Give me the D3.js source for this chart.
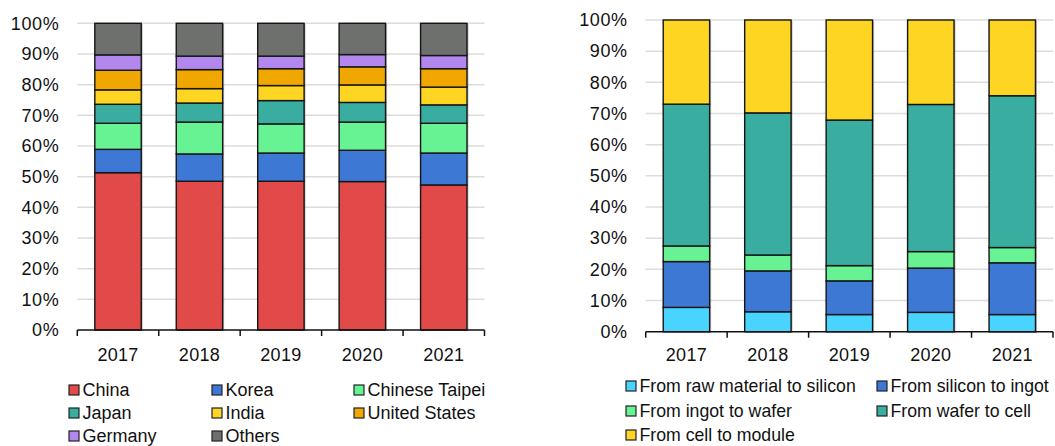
<!DOCTYPE html>
<html><head><meta charset="utf-8">
<script src="https://cdn.jsdelivr.net/npm/d3@7"></script>
<style>
body{margin:0;background:#fff;}
text{font-family:"Liberation Sans",Arial,sans-serif;fill:#111;}
</style></head>
<body><svg id="c" width="1055" height="446"></svg>
<script>
const years = ["2017","2018","2019","2020","2021"];
const yTicks = [0,10,20,30,40,50,60,70,80,90,100];

// Left chart: share by country (%)
const countries = ["China","Korea","Chinese Taipei","Japan","India","United States","Germany","Others"];
const China        = [51.3, 48.5, 48.5, 48.4, 47.3];
const Korea        = [ 7.6,  8.9,  9.2, 10.2, 10.4];
const ChineseTaipei= [ 8.5, 10.4,  9.5,  9.2,  9.7];
const Japan        = [ 6.2,  6.2,  7.6,  6.4,  6.0];
const India        = [ 4.7,  4.7,  4.9,  5.7,  5.8];
const UnitedStates = [ 6.4,  6.2,  5.5,  5.9,  6.0];
const Germany      = [ 5.0,  4.4,  4.1,  4.0,  4.3];
const Others       = [10.3, 10.7, 10.7, 10.2, 10.5];
const countryColors = ["#E24A4A","#3D79D4","#67F393","#38ADA0","#FED523","#F0A800","#B287EE","#6E706E"];

// Right chart: share by value-chain step (%)
const steps = ["From raw material to silicon","From silicon to ingot","From ingot to wafer","From wafer to cell","From cell to module"];
const rawToSilicon = [ 7.8,  6.4,  5.5,  6.2,  5.5];
const siliconToIngot=[14.7, 13.1, 10.8, 14.2, 16.6];
const ingotToWafer = [ 5.0,  5.1,  4.9,  5.3,  4.9];
const waferToCell  = [45.5, 45.6, 46.7, 47.2, 48.7];
const cellToModule = [27.0, 29.8, 32.1, 27.1, 24.3];
const stepColors = ["#48D4FE","#3D79D4","#67F393","#38ADA0","#FED523"];

const svg = d3.select("#c");

function chart(cfg){
  const rows = years.map((y,i)=>{const o={year:y}; cfg.keys.forEach((k,j)=>o[k]=cfg.series[j][i]); return o;});
  const stack = d3.stack().keys(cfg.keys)(rows);
  const x = d3.scaleBand().domain(years).range([cfg.x0,cfg.x1]).paddingInner(0.43).paddingOuter(0.215);
  const xb = d3.scaleBand().domain(years).range([cfg.x0,cfg.x1]);
  const y = d3.scaleLinear().domain([0,100]).range([cfg.y0,cfg.y1]);
  const g = svg.append("g");
  g.selectAll(".grid").data(yTicks.slice(1)).join("line")
    .attr("x1",cfg.x0).attr("x2",cfg.x1).attr("y1",d=>y(d)).attr("y2",d=>y(d))
    .attr("stroke","#dcdcdc").attr("stroke-width",1.5);
  g.selectAll(".yl").data(yTicks).join("text")
    .attr("x",cfg.x0-18).attr("y",d=>y(d)).attr("dy","0.35em")
    .attr("text-anchor","end").style("font-size","18px").style("letter-spacing","0.6px")
    .text(d=>d+"%");
  stack.forEach((s,j)=>{
    g.append("g").selectAll("rect").data(s).join("rect")
      .attr("x",d=>x(d.data.year)+1.5).attr("y",d=>y(d[1])+1)
      .attr("width",x.bandwidth()).attr("height",d=>y(d[0])-y(d[1]))
      .attr("fill","#888").attr("opacity",0.5);
  });
  stack.forEach((s,j)=>{
    g.append("g").selectAll("rect").data(s).join("rect")
      .attr("x",d=>x(d.data.year)).attr("y",d=>y(d[1]))
      .attr("width",x.bandwidth()).attr("height",d=>y(d[0])-y(d[1]))
      .attr("fill",cfg.colors[j]).attr("stroke","#151515").attr("stroke-width",1.4);
  });
  const ax = g.append("g").attr("transform",`translate(0,${cfg.y0})`);
  ax.append("line").attr("x1",cfg.x0).attr("x2",cfg.x1).attr("stroke","#111").attr("stroke-width",1.5);
  const tickPos = years.map(d=>xb(d)).concat([cfg.x1]);
  ax.selectAll(".tk").data(tickPos).join("line")
    .attr("x1",d=>d).attr("x2",d=>d).attr("y1",0).attr("y2",6)
    .attr("stroke","#111").attr("stroke-width",1.5);
  ax.selectAll(".xl").data(years).join("text")
    .attr("x",d=>xb(d)+xb.bandwidth()/2).attr("y",cfg.xlY-cfg.y0).attr("dy","0.35em")
    .attr("text-anchor","middle").style("font-size","18px").style("letter-spacing","0.3px").text(d=>d);
  const lg = g.append("g");
  cfg.keys.forEach((k,i)=>{
    const col = i % cfg.ncol, row = Math.floor(i/cfg.ncol);
    const lx = cfg.legX[col], ly = cfg.legY[row];
    lg.append("rect").attr("x",lx).attr("y",ly-5).attr("width",10).attr("height",10)
      .attr("fill",cfg.colors[i]).attr("stroke","#222").attr("stroke-width",1.2);
    lg.append("text").attr("x",lx+13.5).attr("y",ly).attr("dy","0.35em")
      .style("font-size",cfg.legFont).text(cfg.labels[i]);
  });
}

chart({keys:countries, labels:countries,
  series:[China,Korea,ChineseTaipei,Japan,India,UnitedStates,Germany,Others],
  colors:countryColors, x0:77.3, x1:484.5, y0:330, y1:23.3, xlY:355,
  ncol:3, legX:[69,212,354], legY:[390,413,436], legFont:"18px"});

chart({keys:steps, labels:steps,
  series:[rawToSilicon,siliconToIngot,ingotToWafer,waferToCell,cellToModule],
  colors:stepColors, x0:645.7, x1:1053, y0:331.7, y1:20, xlY:355,
  ncol:2, legX:[626,877], legY:[386,411,435], legFont:"17.7px"});
</script></body></html>
